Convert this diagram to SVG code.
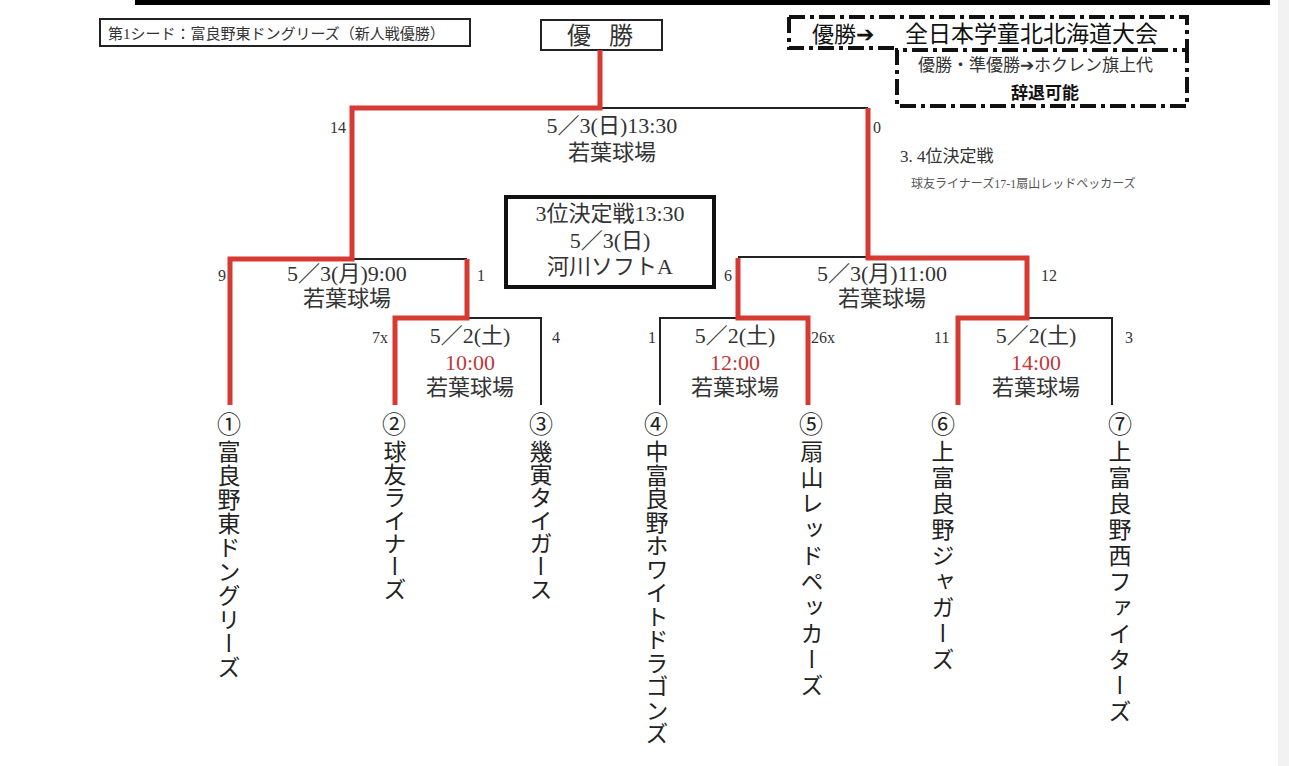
<svg xmlns="http://www.w3.org/2000/svg" width="1289" height="766" viewBox="0 0 1289 766">
<style>
text{font-family:"Liberation Serif","Noto Sans CJK JP",serif;fill:#333}
.s{font-size:20px}
.m{font-size:22px;text-anchor:middle}
.n{font-size:16px}
.r{fill:#c0393b}
.red{stroke:#d63a33;stroke-width:5;fill:none}
.blk{stroke:#222;stroke-width:2;fill:none}
.v{font-family:"Noto Sans CJK JP",sans-serif;font-size:23px;writing-mode:vertical-rl;fill:#222}
.c{font-family:"Noto Sans CJK JP",sans-serif;font-size:24px;text-anchor:middle;fill:#222}
.dash{fill:none;stroke:#111;stroke-width:4;stroke-dasharray:16,5,4,5}
</style>
<rect width="1289" height="766" fill="#fff"/>
<rect x="135" y="0" width="1135" height="5" fill="#000"/>
<rect x="1278" y="0" width="11" height="766" fill="#f2f2f2"/>
<g id="seed"><rect x="100" y="19" width="370" height="27" fill="none" stroke="#222" stroke-width="2"/><text x="108" y="39" style="font-size:15px">第1シード：富良野東ドングリーズ（新人戦優勝）</text></g>
<g id="champ"><rect x="541" y="20" width="121" height="30" fill="none" stroke="#222" stroke-width="2"/><text x="609" y="44" class="m" style="font-size:24px;letter-spacing:18px">優勝</text></g>
<g id="note">
<path class="dash" d="M789 17 H1187 V50 H897 V106 H1187 V50 M789 17 V48 H897"/>
<text x="812" y="42" style="font-family:'Noto Sans CJK JP',sans-serif;font-size:22px;fill:#111">優勝➔</text>
<text x="905" y="42" style="font-family:'Noto Sans CJK JP',sans-serif;font-size:23px;fill:#111">全日本学童北北海道大会</text>
<text x="918" y="71" style="font-size:17px">優勝・準優勝➔ホクレン旗上代</text>
<text x="1045" y="99" style="font-family:'Noto Sans CJK JP',sans-serif;font-size:17px;fill:#111;text-anchor:middle;font-weight:bold">辞退可能</text>
</g>
<g id="third-note"><text x="900" y="162" style="font-size:17px">3. 4位決定戦</text><text x="911" y="188" style="font-size:12px;fill:#555">球友ライナーズ17-1扇山レッドペッカーズ</text></g>
<g id="third-box"><rect x="506" y="197" width="208" height="90" fill="none" stroke="#111" stroke-width="4"/>
<text x="610" y="221" class="m">3位決定戦13:30</text><text x="610" y="248" class="m">5／3(日)</text><text x="610" y="274" class="m">河川ソフトA</text></g>
<g id="connectors">
<path class="blk" d="M600 108 H868"/>
<path class="blk" d="M352 259 H467 M467 318 H541 V405"/>
<path class="blk" d="M738 257 H868 M660 405 V318 H738 M1027 318 H1112 V405"/>
<path class="red" d="M600 50 V108 H352 V259 H230 V405"/>
<path class="red" d="M467 259 V318 H395 V405"/>
<path class="red" d="M868 108 V258 H1027 V318 H958 V405"/>
<path class="red" d="M738 258 V318 H808 V405"/>
</g>
<g id="labels">
<text x="330" y="133" class="n">14</text><text x="873" y="133" class="n">0</text>
<text x="612" y="133" class="m">5／3(日)13:30</text><text x="612" y="160" class="m">若葉球場</text>
<text x="218" y="281" class="n">9</text><text x="477" y="281" class="n">1</text>
<text x="347" y="281" class="m">5／3(月)9:00</text><text x="347" y="306" class="m">若葉球場</text>
<text x="372" y="343" class="n">7x</text><text x="552" y="343" class="n">4</text>
<text x="470" y="343" class="m">5／2(土)</text><text x="470" y="370" class="m r">10:00</text><text x="470" y="395" class="m">若葉球場</text>
<text x="724" y="281" class="n">6</text><text x="1041" y="281" class="n">12</text>
<text x="882" y="281" class="m">5／3(月)11:00</text><text x="882" y="306" class="m">若葉球場</text>
<text x="648" y="343" class="n">1</text><text x="811" y="343" class="n">26x</text>
<text x="735" y="343" class="m">5／2(土)</text><text x="735" y="370" class="m r">12:00</text><text x="735" y="395" class="m">若葉球場</text>
<text x="934" y="343" class="n">11</text><text x="1125" y="343" class="n">3</text>
<text x="1036" y="343" class="m">5／2(土)</text><text x="1036" y="370" class="m r">14:00</text><text x="1036" y="395" class="m">若葉球場</text>
</g>
<g id="team1"><text x="229" y="433" class="c">①</text><text x="229" y="440" class="v" style="letter-spacing:1px">富良野東ドングリーズ</text></g>
<g id="team2"><text x="394" y="433" class="c">②</text><text x="395" y="440" class="v">球友ライナーズ</text></g>
<g id="team3"><text x="541" y="433" class="c">③</text><text x="541" y="440" class="v">幾寅タイガース</text></g>
<g id="team4"><text x="656" y="433" class="c">④</text><text x="657" y="440" class="v" style="letter-spacing:0.5px">中富良野ホワイトドラゴンズ</text></g>
<g id="team5"><text x="811" y="433" class="c">⑤</text><text x="812" y="440" class="v" style="letter-spacing:3px">扇山レッドペッカーズ</text></g>
<g id="team6"><text x="943" y="433" class="c">⑥</text><text x="943" y="440" class="v" style="letter-spacing:3px">上富良野ジャガーズ</text></g>
<g id="team7"><text x="1120" y="433" class="c">⑦</text><text x="1120" y="440" class="v" style="letter-spacing:3px">上富良野西ファイターズ</text></g>
</svg>
